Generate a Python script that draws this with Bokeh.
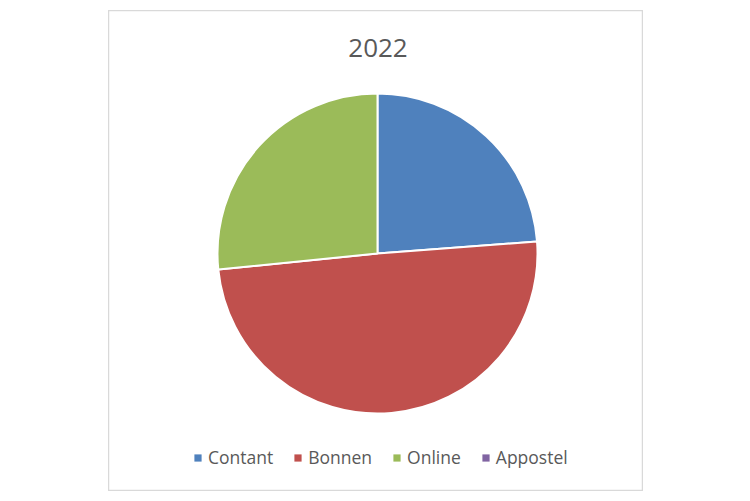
import numpy as np
from bokeh.plotting import figure
from bokeh.models import Range1d, Legend, LegendItem, ColumnDataSource, Spacer
from bokeh.layouts import column, row
from bokeh.core.properties import value
from bokeh.embed import file_html
from bokeh.resources import INLINE

title_text = "2022"
categories = ["Contant", "Bonnen", "Online", "Appostel"]
shares = [23.8, 49.6, 26.6, 0.0]
colors = ["#4F81BD", "#C0504D", "#9BBB59", "#8064A2"]

W, H = 535, 481
cx, cy, r = 269, 238, 160
FONT = "Open Sans"

vals = np.array(shares, dtype=float)
frac = vals / vals.sum()
cum = np.concatenate([[0.0], np.cumsum(frac)])
start = np.pi / 2 - cum[:-1] * 2 * np.pi
end = np.pi / 2 - cum[1:] * 2 * np.pi

p = figure(width=W, height=H, output_backend="svg", toolbar_location=None,
           x_range=Range1d(0, W), y_range=Range1d(0, H), min_border=0)
p.axis.visible = False
p.grid.visible = False
p.outline_line_color = "#D9D9D9"
p.outline_line_width = 1.5
p.background_fill_color = "white"
p.border_fill_color = "white"

legend_renderers = []
for i, cat in enumerate(categories):
    if frac[i] > 0:
        src = ColumnDataSource(dict(x=[cx], y=[cy], s=[start[i]], e=[end[i]]))
        p.wedge(x="x", y="y", radius=r, start_angle="s", end_angle="e",
                direction="clock", fill_color=colors[i], line_color="white",
                line_width=2, source=src)
    # zero-size swatch renderer used only for the legend square
    lr = p.quad(left=[cx], right=[cx], top=[cy], bottom=[cy],
                fill_color=colors[i], line_alpha=0)
    legend_renderers.append(lr)

p.text(x=[W / 2 + 2], y=[H - 37], text=[title_text], text_align="center",
       text_baseline="middle", text_font=value(FONT), text_font_size="26px",
       text_color="#595959")

legend = Legend(items=[LegendItem(label=c, renderers=[legend_renderers[i]], index=0)
                       for i, c in enumerate(categories)],
                orientation="horizontal", location=(85, 22), padding=0, margin=0,
                spacing=20, glyph_width=9, glyph_height=9, label_standoff=6,
                label_text_font=FONT, label_text_font_size="17.5px",
                label_text_color="#595959", border_line_alpha=0,
                background_fill_alpha=0)
p.add_layout(legend, "center")

layout = column(Spacer(height=10), row(Spacer(width=108), p))
open("out.html", "w").write(file_html(layout, INLINE))
